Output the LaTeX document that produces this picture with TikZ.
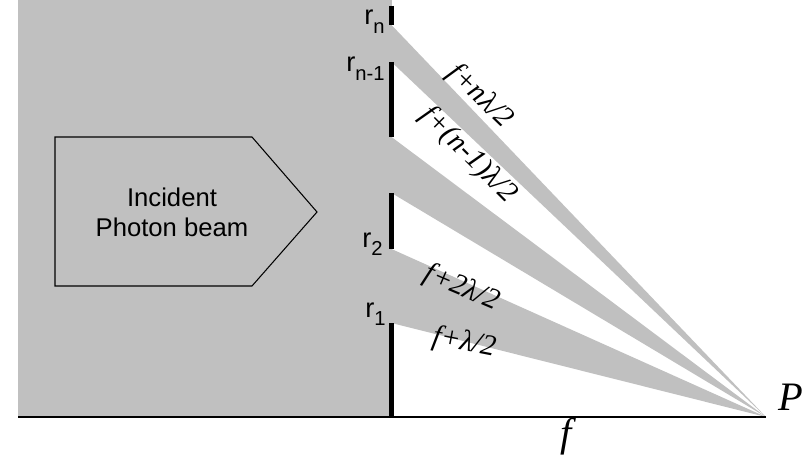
\documentclass[tikz,border=0pt]{standalone}
\usepackage{fontspec}
\setmainfont{Liberation Serif}
\setsansfont{Liberation Sans}
\usetikzlibrary{
  calc,        % 坐标计算
  positioning  % 节点相对定位
}
\definecolor{beamgray}{RGB}{192,192,192}
\newcommand{\ringsub}[1]{\raisebox{-0.32em}{\fontsize{11.5}{12}\selectfont #1}}

\begin{document}
\begin{tikzpicture}[x=1cm, y=1cm,
  lbl/.style={font=\sffamily\fontsize{14.6}{17}\selectfont, inner sep=0pt},
  ringlbl/.style={font=\sffamily\fontsize{15.5}{17}\selectfont, inner sep=0pt, anchor=base east},
  pathlbl/.style={font=\itshape\fontsize{16.8}{19}\selectfont, inner sep=0pt},
  biglbl/.style={font=\itshape\fontsize{23}{26}\selectfont, inner sep=0pt},
  zonebar/.style={line width=2.8pt}]
  % 画布范围
  \useasboundingbox (0,0) rectangle (16.14,9.12);
  \def\xs{7.83}  % 波带片所在位置
  \def\yb{0.78}  % 光轴高度

  % 光轴起点与焦点 P
  \coordinate (O) at (0.36,\yb);
  \coordinate (P) at (15.32,\yb);

  % 各环的上下端点
  \coordinate (rnT) at (\xs,9.00);  \coordinate (rnB) at (\xs,8.62);
  \coordinate (rmT) at (\xs,7.88);  \coordinate (rmB) at (\xs,6.38);
  \coordinate (r2T) at (\xs,5.26);  \coordinate (r2B) at (\xs,4.14);
  \coordinate (r1T) at (\xs,2.66);  \coordinate (r1B) at (\xs,\yb);

  % 入射光区域
  \fill[beamgray] (O) rectangle (\xs,9.12);

  % 透过各环间隙的光束
  \fill[beamgray] (rnB) -- (rmT) -- (P) -- cycle;
  \fill[beamgray] (rmB) -- (r2T) -- (P) -- cycle;
  \fill[beamgray] (r2B) -- (r1T) -- (P) -- cycle;

  % 光轴
  \draw[line width=1.2pt] (O) -- (P);

  % 波带片的不透光环
  \draw[zonebar] (rnT) -- (rnB);
  \draw[zonebar] (rmT) -- (rmB);
  \draw[zonebar] (r2T) -- (r2B);
  \draw[zonebar] (r1T) -- (r1B);

  % 环的标号
  \node[ringlbl] (lrn) at (7.70,8.62) {r\ringsub{n}};
  \node[ringlbl] (lrm) at (7.70,7.68) {r\ringsub{n-1}};
  \node[ringlbl] (lr2) at (7.66,4.18) {r\ringsub{2}};
  \node[ringlbl] (lr1) at (7.72,2.78) {r\ringsub{1}};

  % 入射光子束箭头
  \draw[line width=0.6pt] (1.10,6.38) -- (5.04,6.38) -- (6.34,4.88)
    -- (5.04,3.40) -- (1.10,3.40) -- cycle;
  \node[lbl, align=center] (beam) at (3.44,4.88) {Incident\\Photon beam};

  % 光程标注
  \node[pathlbl, rotate=-44] (dn) at (9.60,7.19) {f+nλ/2};
  \node[pathlbl, rotate=-45] (dm) at (9.37,6.02) {f+(n-1)λ/2};
  \node[pathlbl, rotate=-23] (d2) at (9.23,3.35) {f+2λ/2};
  \node[pathlbl, rotate=-11] (d1) at (9.28,2.26) {f+λ/2};

  % 焦距与焦点
  \node[biglbl] (flen) at (11.32,0.38) {f};
  \node[biglbl] (lP) at (15.82,1.18) {P};
\end{tikzpicture}
\end{document}
